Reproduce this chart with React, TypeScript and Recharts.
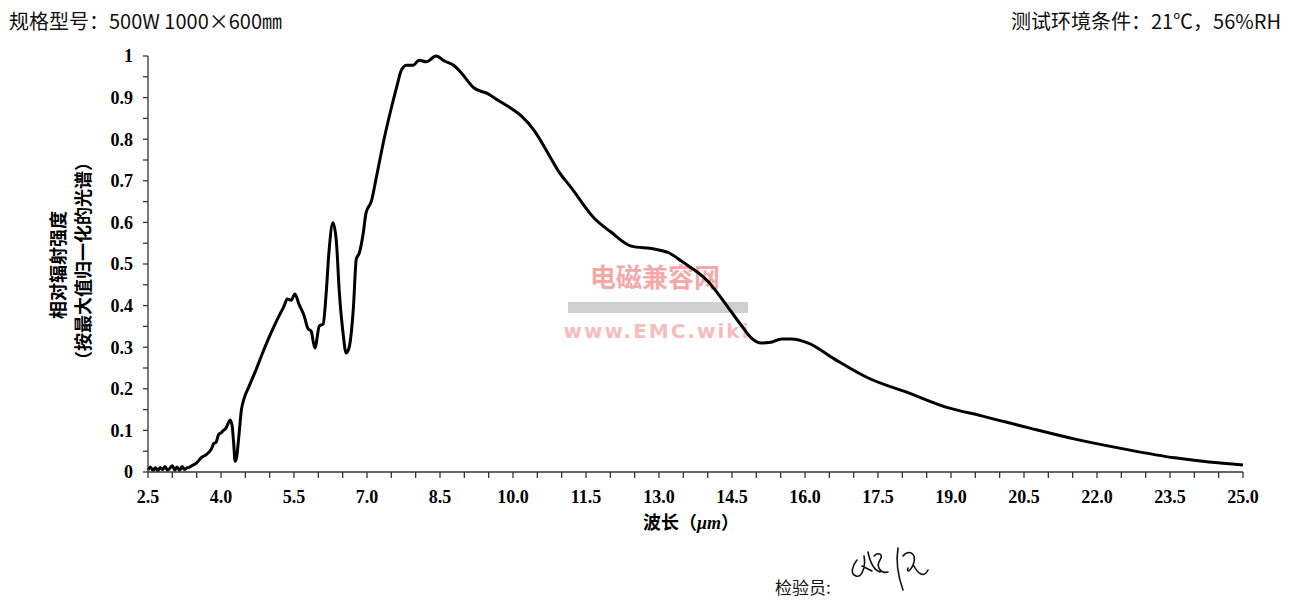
import { LineChart, Line, XAxis, YAxis } from "recharts";

// wavelength (µm) and normalised relative radiant intensity
const WAVELENGTH = [
  2.5, 2.55, 2.6, 2.65, 2.7, 2.75, 2.8, 2.85, 2.9, 2.95, 3.0, 3.05, 3.1, 3.15,
  3.2, 3.25, 3.3, 3.35, 3.4, 3.5, 3.6, 3.7, 3.8, 3.85, 3.9, 3.95, 4.0, 4.05,
  4.1, 4.15, 4.19, 4.23, 4.26, 4.29, 4.32, 4.37, 4.42, 4.47, 4.58, 4.7, 4.85,
  5.03, 5.17, 5.3, 5.36, 5.44, 5.52, 5.6, 5.71, 5.79, 5.85, 5.93, 6.02, 6.1,
  6.16, 6.22, 6.3, 6.37, 6.43, 6.51, 6.57, 6.63, 6.72, 6.78, 6.84, 6.92, 6.98,
  7.09, 7.19, 7.35, 7.5, 7.62, 7.7, 7.81, 7.95, 8.07, 8.22, 8.42, 8.59, 8.8,
  8.94, 9.2, 9.49, 9.7, 9.95, 10.17, 10.44, 10.73, 10.93, 11.2, 11.67, 12.0,
  12.43, 12.9, 13.2, 13.46, 14.0, 14.43, 14.7, 14.9, 15.1, 15.3, 15.52, 15.72,
  16.07, 16.6, 17.3, 18.13, 18.95, 19.63, 20.6, 21.55, 22.57, 23.6, 24.3, 25.0,
];

const INTENSITY = [
  0.005, 0.012, 0.004, 0.01, 0.003, 0.011, 0.006, 0.013, 0.004, 0.009, 0.015,
  0.005, 0.012, 0.004, 0.013, 0.006, 0.01, 0.012, 0.015, 0.022, 0.035, 0.042,
  0.055, 0.068, 0.072, 0.09, 0.094, 0.1, 0.105, 0.118, 0.125, 0.11, 0.07,
  0.026, 0.035, 0.09, 0.15, 0.175, 0.207, 0.24, 0.285, 0.335, 0.37, 0.4,
  0.416, 0.413, 0.428, 0.404, 0.375, 0.344, 0.339, 0.298, 0.351, 0.356, 0.428,
  0.531, 0.599, 0.555, 0.435, 0.332, 0.286, 0.298, 0.394, 0.512, 0.526, 0.572,
  0.623, 0.651, 0.707, 0.8, 0.875, 0.93, 0.964, 0.978, 0.978, 0.99, 0.986, 1.0,
  0.988, 0.976, 0.959, 0.923, 0.909, 0.893, 0.875, 0.856, 0.82, 0.764, 0.724,
  0.683, 0.61, 0.578, 0.543, 0.536, 0.527, 0.507, 0.459, 0.394, 0.351, 0.322,
  0.31, 0.312, 0.32, 0.32, 0.31, 0.272, 0.226, 0.19, 0.154, 0.135, 0.106,
  0.079, 0.055, 0.034, 0.024, 0.017,
];

// ticks every 0.5 µm (label every 1.5), every 0.05 on y (label every 0.1)
const X_TICKS = Array.from({ length: 46 }, (_, i) => Math.round((2.5 + i * 0.5) * 100) / 100);
const Y_TICKS = Array.from({ length: 21 }, (_, i) => Math.round(i * 5) / 100);

const data = WAVELENGTH.map((x, i) => ({ x, y: INTENSITY[i] }));

const tickStyle = {
  fill: "#000",
  fontSize: 18,
  fontWeight: "bold",
  fontFamily: "'Liberation Serif', 'Times New Roman', serif",
};

const formatX = (v: number) => {
  const k = (v - 2.5) / 1.5;
  return Math.abs(k - Math.round(k)) < 1e-6 ? v.toFixed(1) : "";
};

const formatY = (v: number) => {
  const n = Math.round(v * 20);
  if (n % 2 !== 0) return "";
  if (n === 0) return "0";
  if (n === 20) return "1";
  return v.toFixed(1);
};

const cjk = "'Noto Sans CJK SC', sans-serif";

export default function App() {
  return (
    <div style={{ position: "absolute", left: 0, top: 0, width: 1316, height: 605, background: "#fff" }}>
      {/* watermark */}
      <svg width={1316} height={605} style={{ position: "absolute", left: 0, top: 0 }}>
        <text x={655} y={287} textAnchor="middle" fontFamily={cjk} fontWeight="bold" fontSize={26} fill="#f4a9a9">
          电磁兼容网
        </text>
        <rect x={568} y={302} width={180} height={11} fill="#cfcfcf" />
        <text x={657} y={338} textAnchor="middle" fontFamily="'DejaVu Sans', sans-serif" fontWeight="bold" fontSize={20} letterSpacing={2} fill="#f7bcbc">
          www.EMC.wiki
        </text>
      </svg>

      <div style={{ position: "absolute", left: 0, top: 0 }}>
        <LineChart width={1316} height={605} data={data} margin={{ top: 56, right: 73, bottom: 93, left: 88 }}>
          <XAxis
            dataKey="x"
            type="number"
            domain={[2.5, 25]}
            ticks={X_TICKS}
            interval={0}
            tickFormatter={formatX}
            height={40}
            tick={tickStyle}
            tickSize={6}
            tickMargin={12}
            axisLine={{ stroke: "#333", strokeWidth: 1.3 }}
            tickLine={{ stroke: "#333", strokeWidth: 1.3 }}
          />
          <YAxis
            type="number"
            domain={[0, 1]}
            ticks={Y_TICKS}
            interval={0}
            tickFormatter={formatY}
            width={60}
            tick={tickStyle}
            tickSize={5}
            tickMargin={10}
            axisLine={{ stroke: "#333", strokeWidth: 1.3 }}
            tickLine={{ stroke: "#333", strokeWidth: 1.3 }}
          />
          <Line
            type="monotone"
            dataKey="y"
            stroke="#000"
            strokeWidth={3}
            dot={false}
            isAnimationActive={false}
          />
        </LineChart>
      </div>

      {/* headers, axis titles, inspector line */}
      <svg width={1316} height={605} style={{ position: "absolute", left: 0, top: 0, pointerEvents: "none" }}>
        <text x={9} y={29} fontFamily={cjk} fontSize={20} fill="#111">
          规格型号：500W 1000×600㎜
        </text>
        <text x={1281} y={29} textAnchor="end" fontFamily={cjk} fontSize={20} fill="#111">
          测试环境条件：21℃，56%RH
        </text>

        <text transform="translate(65,265) rotate(-90)" textAnchor="middle" fontFamily={cjk} fontWeight="bold" fontSize={18} fill="#000">
          相对辐射强度
        </text>
        <text transform="translate(90,261) rotate(-90)" textAnchor="middle" fontFamily={cjk} fontWeight="bold" fontSize={18} fill="#000">
          （按最大值归一化的光谱）
        </text>

        <text x={643} y={529} fontFamily={cjk} fontWeight="bold" fontSize={18} fill="#000">
          波长（<tspan fontFamily="'Liberation Serif', serif" fontStyle="italic">μm</tspan>）
        </text>

        <text x={775} y={594} fontFamily={cjk} fontSize={17} fill="#111">
          检验员:
        </text>
        {/* signature */}
        <g fill="none" stroke="#111" strokeWidth={1.6} strokeLinecap="round">
          <path d="M857,560 C852,566 850,574 856,576 C862,578 866,566 864,556 M862,566 L872,571 M868,552 C870,562 874,570 880,572 M874,556 C878,552 884,554 880,560 C876,566 880,574 888,572" />
          <path d="M898,548 C896,560 898,576 903,590 M903,556 C908,550 916,552 914,562 C912,570 906,574 908,568 M914,566 C918,574 924,578 928,570" />
        </g>
      </svg>
    </div>
  );
}
